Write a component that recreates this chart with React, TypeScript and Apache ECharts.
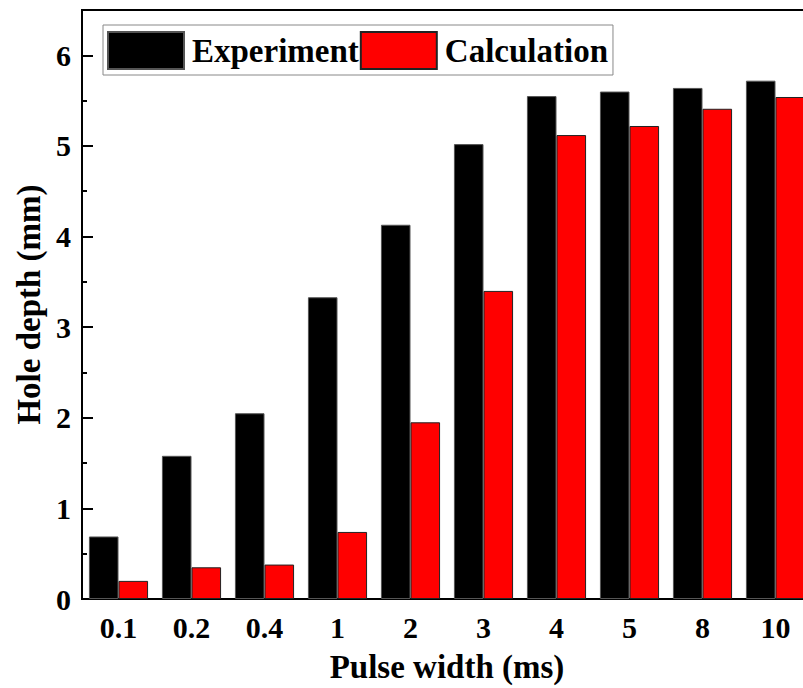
import React, { useEffect, useRef } from "react";
import * as echarts from "echarts";

const categories = ["0.1", "0.2", "0.4", "1", "2", "3", "4", "5", "8", "10"];
const experiment = [0.69, 1.58, 2.05, 3.33, 4.13, 5.02, 5.55, 5.6, 5.64, 5.72];
const calculation = [0.2, 0.35, 0.38, 0.74, 1.95, 3.4, 5.12, 5.22, 5.41, 5.54];
const yTicks = [0, 1, 2, 3, 4, 5, 6];

const FONT = "'Liberation Serif', 'Times New Roman', serif";

export default function App() {
  const ref = useRef<HTMLDivElement>(null);
  useEffect(() => {
    if (!ref.current) return;
    const chart = echarts.init(ref.current, undefined, { renderer: "svg" });
    chart.setOption({
      animation: false,
      backgroundColor: "#ffffff",
      textStyle: { fontFamily: FONT, fontWeight: "bold", color: "#000" },
      grid: {
        left: 82,
        top: 10,
        right: 18,
        bottom: 87,
        show: true,
        borderColor: "#000",
        borderWidth: 2,
        backgroundColor: "transparent",
      },
      legend: {
        left: 103,
        top: 25,
        orient: "horizontal",
        icon: "rect",
        padding: [6, 5, 5, 4],
        borderColor: "#888",
        borderWidth: 1,
        itemWidth: 76,
        itemHeight: 37,
        itemGap: 1,
        textStyle: {
          fontFamily: FONT,
          fontWeight: "bold",
          fontSize: 33,
          color: "#000",
          padding: [0, 0, 0, 3],
        },
        data: ["Experiment", "Calculation"],
      },
      xAxis: {
        type: "category",
        data: categories,
        name: "Pulse width (ms)",
        nameLocation: "middle",
        nameGap: 51,
        nameTextStyle: { fontFamily: FONT, fontWeight: "bold", fontSize: 33, color: "#000" },
        axisLine: { lineStyle: { color: "#000", width: 2 } },
        axisTick: { show: false },
        axisLabel: { fontFamily: FONT, fontWeight: "bold", fontSize: 30, color: "#000", margin: 13 },
      },
      yAxis: {
        type: "value",
        min: 0,
        max: 6.5,
        interval: 1,
        name: "Hole depth (mm)",
        nameLocation: "middle",
        nameGap: 37,
        nameTextStyle: { fontFamily: FONT, fontWeight: "bold", fontSize: 33, color: "#000" },
        axisLine: { show: true, lineStyle: { color: "#000", width: 2 } },
        axisTick: { show: true, inside: true, length: 11, lineStyle: { color: "#000", width: 2 } },
        minorTick: { show: true, splitNumber: 2, length: 5, lineStyle: { color: "#000", width: 2 } },
        splitLine: { show: false },
        axisLabel: {
          fontFamily: FONT,
          fontWeight: "bold",
          fontSize: 30,
          color: "#000",
          margin: 11,
          formatter: (v: number) => (yTicks.includes(v) ? String(v) : ""),
        },
      },
      series: [
        {
          name: "Experiment",
          type: "bar",
          data: experiment,
          barGap: "0%",
          barCategoryGap: "19%",
          itemStyle: { color: "#000000", borderColor: "#555", borderWidth: 1 },
        },
        {
          name: "Calculation",
          type: "bar",
          data: calculation,
          barGap: "0%",
          barCategoryGap: "19%",
          itemStyle: { color: "#ff0000", borderColor: "#222", borderWidth: 1 },
        },
      ],
    });
    return () => chart.dispose();
  }, []);
  return (
    <div
      style={{
        position: "fixed",
        left: 0,
        top: 0,
        width: 803,
        height: 688,
        overflow: "hidden",
        background: "#fff",
      }}
    >
      <div ref={ref} style={{ width: 830, height: 688 }} />
    </div>
  );
}
